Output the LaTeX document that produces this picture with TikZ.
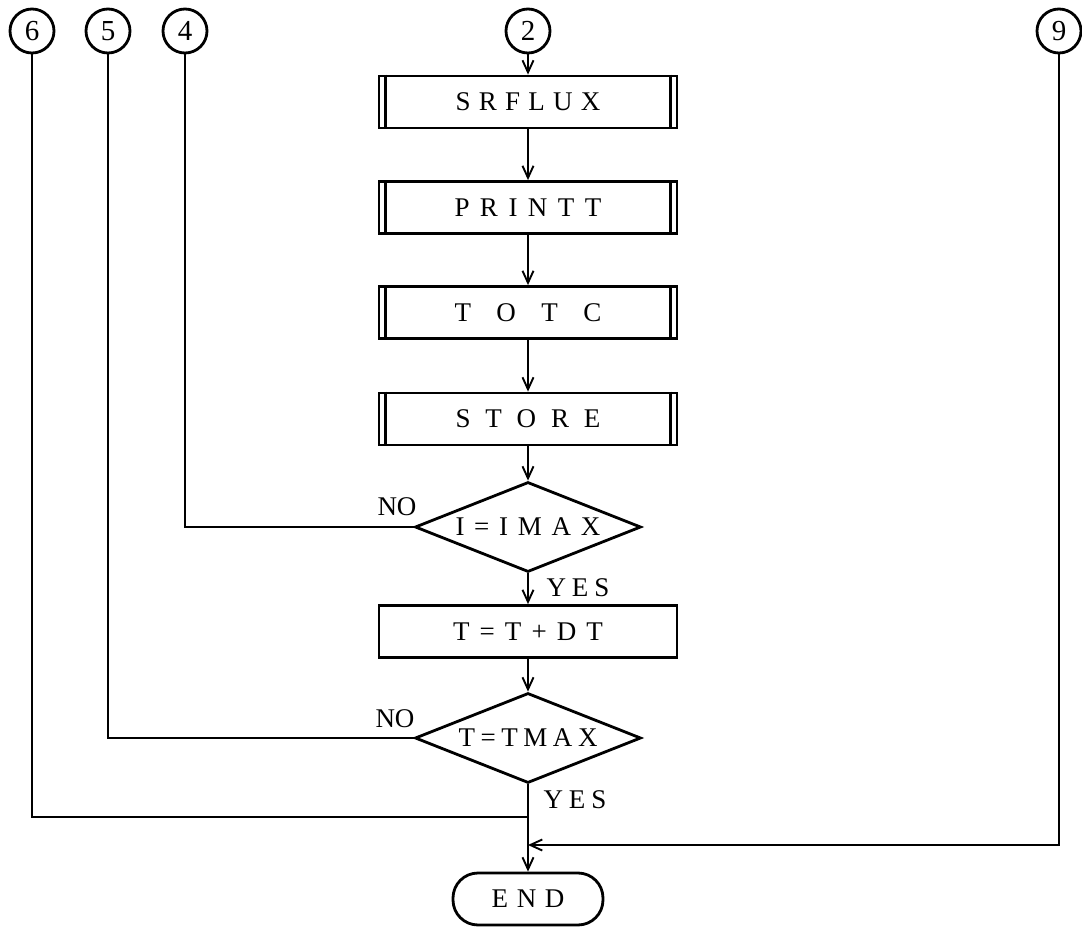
\documentclass[tikz,border=0pt]{standalone}
\usepackage{fontspec}
\setmainfont{Liberation Serif}
\usetikzlibrary{arrows.meta,shapes.geometric}
\begin{document}
\begin{tikzpicture}[x=1pt,y=-1pt,
  line width=2.8pt,
  big/.style={font=\fontsize{27}{30}\selectfont},
  arr/.style={-{Straight Barb[length=12pt,width=11pt,line width=1.9pt]}},
  conn/.style={circle,draw,minimum size=44pt,inner sep=0pt,font=\fontsize{29}{29}\selectfont},
  proc/.style={draw,minimum width=298pt,minimum height=52pt,inner sep=0pt,big},
  dec/.style={diamond,draw,shape aspect=2.5,minimum width=226pt,minimum height=90pt,inner sep=0pt,big},
  term/.style={draw,rounded corners=25pt,minimum width=150pt,minimum height=52pt,inner sep=0pt,big},
  lbl/.style={inner sep=0pt,big}
]
\useasboundingbox (0,0) rectangle (1082,928);

% connectors (circles)
\node[conn] (c6) at (32,31) {6};
\node[conn] (c5) at (108,31) {5};
\node[conn] (c4) at (185,31) {4};
\node[conn] (c2) at (528,31) {2};
\node[conn] (c9) at (1059,31) {9};

% main column
\node[proc] (b1) at (528,102) {\makebox[145pt][s]{S R F L U X}};
\node[proc] (b2) at (528,207.5) {\makebox[147pt][s]{P R I N T T}};
\node[proc] (b3) at (528,312.5) {\makebox[147pt][s]{T O T C}};
\node[proc] (b4) at (528,419) {\makebox[145pt][s]{S T O R E}};
\node[dec] (d1) at (528,527) {\makebox[145pt][s]{I = I M A X}};
\node[proc] (b5) at (528,631.5) {\makebox[150pt][s]{T = T + D T}};
\node[dec] (d2) at (528,738) {\makebox[139pt][s]{T = T M A X}};
\node[term] (e) at (528,899) {\makebox[73pt][s]{E N D}};

% subroutine side bars
\foreach \n in {b1,b2,b3,b4}{
  \draw ([xshift=8pt]\n.north west) -- ([xshift=8pt]\n.south west);
  \draw ([xshift=-8pt]\n.north east) -- ([xshift=-8pt]\n.south east);
}

% labels
\node[lbl] (no1) at (397,507) {NO};
\node[lbl] (no2) at (395,719) {NO};
\node[lbl] (yes1) at (578,588) {\makebox[63pt][s]{Y E S}};
\node[lbl] (yes2) at (575,800) {\makebox[63pt][s]{Y E S}};

% junctions
\coordinate (j6) at (528,817);
\coordinate (j9) at (528,845);

% flow
\draw[arr] (c2) -- (b1);
\draw[arr] (b1) -- (b2);
\draw[arr] (b2) -- (b3);
\draw[arr] (b3) -- (b4);
\draw[arr] (b4) -- (d1.north);
\draw[arr] (d1.south) -- (b5);
\draw[arr] (b5) -- (d2.north);
\draw[arr] (d2.south) -- (e.north);

% loop-backs
\draw (c4) |- (d1.west);
\draw (c5) |- (d2.west);
\draw (c6) |- (j6);
\draw[arr] (c9) |- (j9);
\end{tikzpicture}
\end{document}
